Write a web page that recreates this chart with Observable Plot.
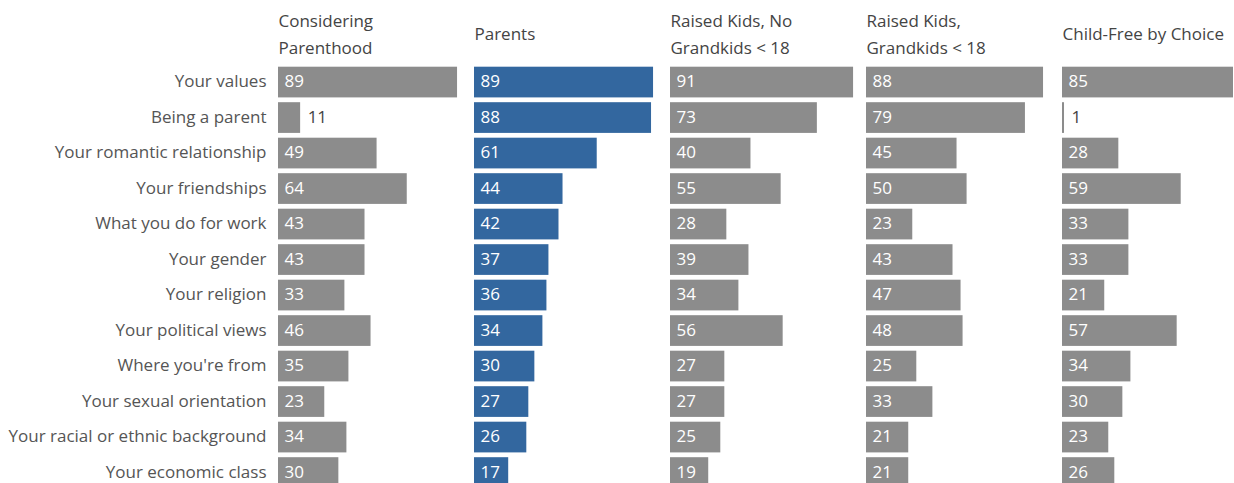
<!DOCTYPE html>
<html>
<head>
<meta charset="utf-8">
<script src="https://cdn.jsdelivr.net/npm/d3@7"></script>
<script src="https://cdn.jsdelivr.net/npm/@observablehq/plot@0.6"></script>
<style>
  html, body { margin: 0; padding: 0; background: #fff; overflow: hidden; }
</style>
</head>
<body>
<div id="chart"></div>
<script>
const categories = [
  "Your values", "Being a parent", "Your romantic relationship", "Your friendships",
  "What you do for work", "Your gender", "Your religion", "Your political views",
  "Where you're from", "Your sexual orientation", "Your racial or ethnic background",
  "Your economic class"
];
const groups = [
  "Considering Parenthood", "Parents", "Raised Kids, No Grandkids < 18",
  "Raised Kids, Grandkids < 18", "Child-Free by Choice"
];
const headerLabels = [
  "Considering\nParenthood", "Parents", "Raised Kids, No\nGrandkids < 18",
  "Raised Kids,\nGrandkids < 18", "Child-Free by Choice"
];
const consideringParenthood = [89, 11, 49, 64, 43, 43, 33, 46, 35, 23, 34, 30];
const parents = [89, 88, 61, 44, 42, 37, 36, 34, 30, 27, 26, 17];
const raisedNoGrandkids = [91, 73, 40, 55, 28, 39, 34, 56, 27, 27, 25, 19];
const raisedGrandkids = [88, 79, 45, 50, 23, 43, 47, 48, 25, 33, 21, 21];
const childFree = [85, 1, 28, 59, 33, 33, 21, 57, 34, 30, 23, 26];
const seriesValues = [consideringParenthood, parents, raisedNoGrandkids, raisedGrandkids, childFree];
const barColors = ["#8c8c8c", "#33679f", "#8c8c8c", "#8c8c8c", "#8c8c8c"];

const data = [];
groups.forEach((g, gi) => {
  categories.forEach((c, ci) => {
    data.push({group: g, category: c, value: seriesValues[gi][ci]});
  });
});
const headers = groups.map((g, i) => ({group: g, label: headerLabels[i]}));
const isSmall = d => d.value < 15;

const font = "'Open Sans', sans-serif";

const chart = Plot.plot({
  width: 1234,
  height: 483,
  marginLeft: 278,
  marginRight: 1,
  marginTop: 65,
  marginBottom: 0,
  style: {fontFamily: font, fontSize: "17px", background: "#fff"},
  fx: {domain: groups, paddingInner: 25 / 196, paddingOuter: 0, axis: null, round: false},
  x: {domain: [0, 85], axis: null},
  y: {domain: categories, range: [64.3, 490.3], paddingInner: 0.135, paddingOuter: 0.0675, round: false, axis: null},
  color: {domain: groups, range: barColors},
  marks: [
    Plot.barX(data, {x: "value", y: "category", fx: "group", fill: "group"}),
    Plot.text(data.filter(d => !isSmall(d)), {
      x: 0, y: "category", fx: "group", text: d => String(d.value),
      textAnchor: "start", dx: 6, dy: -1, fill: "white", fontSize: 17
    }),
    Plot.text(data.filter(isSmall), {
      x: "value", y: "category", fx: "group", text: d => String(d.value),
      textAnchor: "start", dx: 7, dy: -1, fill: "#444", fontSize: 17
    }),
    Plot.axisY({tickSize: 0, tickPadding: 12, dy: -1, fontSize: 17, color: "#555", label: null, facetAnchor: "left"}),
    Plot.text(headers, {
      fx: "group", text: "label", frameAnchor: "top-left", textAnchor: "start",
      lineAnchor: "middle", lineHeight: 1.6, dy: -34, fill: "#444", fontSize: 17
    })
  ]
});
document.getElementById("chart").append(chart);
</script>
</body>
</html>
